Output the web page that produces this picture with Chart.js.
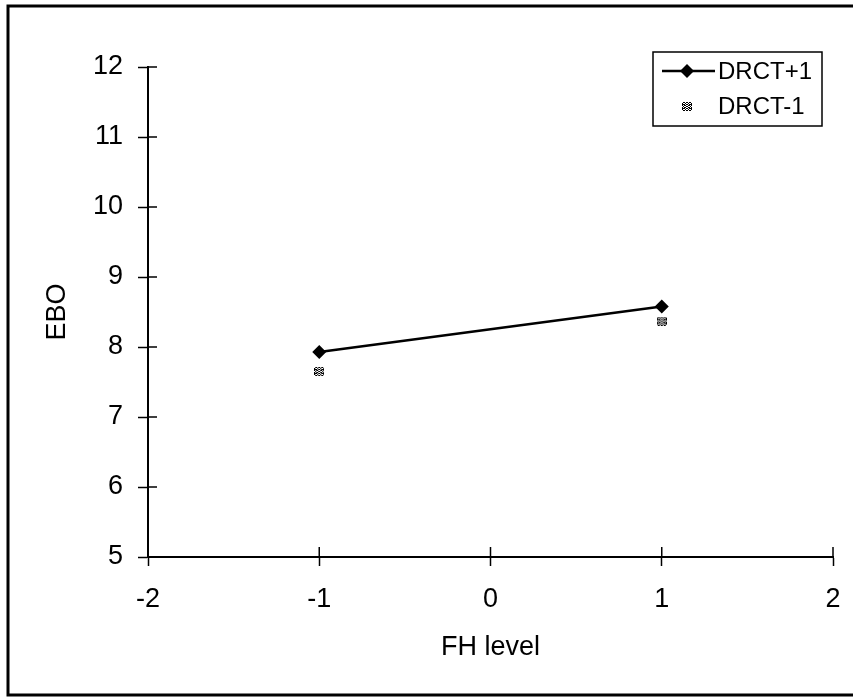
<!DOCTYPE html>
<html>
<head>
<meta charset="utf-8">
<title>EBO vs FH level</title>
<script src="https://cdn.jsdelivr.net/npm/chart.js@4.4.1/dist/chart.umd.min.js"></script>
<style>
  html, body { margin: 0; padding: 0; background: #fff; }
  #wrap { width: 853px; height: 698px; }
</style>
</head>
<body>
<div id="wrap"><canvas id="ebo"></canvas></div>
<script>
// valores
const fhLevels = [-1, 1];
const drctPlus = [7.93, 8.58];
const drctMinus = [7.65, 8.37];
const seriesNames = ['DRCT+1', 'DRCT-1'];
const xTicks = [-2, -1, 0, 1, 2];
const yTicks = [5, 6, 7, 8, 9, 10, 11, 12];

const FONT = '"Liberation Sans", Arial, sans-serif';

// marcador punteado para DRCT-1 (tipo ※)
function hatchMarker() {
  const rows = [
    '.XX.XX.XX.',
    'X..X..X..X',
    'XXX.XX.XXX',
    'X.XX..XX.X',
    '.X..XX..X.',
    'X.XX..XX.X',
    'XXX.XX.XXX',
    'X..X..X..X',
    '.XX.XX.XX.'
  ];
  const c = document.createElement('canvas');
  c.width = 10; c.height = 9;
  const g = c.getContext('2d');
  g.fillStyle = '#000';
  rows.forEach((r, y) => {
    for (let x = 0; x < r.length; x++) {
      if (r[x] === 'X') g.fillRect(x, y, 1, 1);
    }
  });
  return c;
}
const markerMinus = hatchMarker();

// marco exterior
const framePlugin = {
  id: 'frame',
  beforeDraw(chart) {
    const ctx = chart.ctx;
    ctx.save();
    ctx.fillStyle = '#fff';
    ctx.fillRect(0, 0, chart.width, chart.height);
    ctx.strokeStyle = '#000';
    ctx.lineWidth = 3;
    ctx.beginPath();
    ctx.moveTo(853, 6);
    ctx.lineTo(8, 6);
    ctx.lineTo(8, 695);
    ctx.lineTo(853, 695);
    ctx.stroke();
    ctx.restore();
  }
};

// marcas de eje que cruzan hacia dentro
const innerTicks = {
  id: 'innerTicks',
  afterDraw(chart) {
    const ctx = chart.ctx;
    const xs = chart.scales.x, ys = chart.scales.y;
    ctx.save();
    ctx.strokeStyle = '#000';
    ctx.lineWidth = 1.5;
    ctx.beginPath();
    xs.ticks.forEach((t, i) => {
      const px = xs.getPixelForTick(i);
      ctx.moveTo(px, ys.bottom);
      ctx.lineTo(px, ys.bottom - 10);
    });
    ys.ticks.forEach((t, i) => {
      const py = ys.getPixelForTick(i);
      ctx.moveTo(xs.left, py);
      ctx.lineTo(xs.left + 9, py);
    });
    ctx.stroke();
    ctx.restore();
  }
};

// leyenda con recuadro
const boxLegend = {
  id: 'boxLegend',
  afterDraw(chart) {
    const ctx = chart.ctx;
    const x0 = 653, y0 = 52, w = 169, h = 74;
    ctx.save();
    ctx.strokeStyle = '#000';
    ctx.lineWidth = 1.5;
    ctx.strokeRect(x0, y0, w, h);
    ctx.font = '24px ' + FONT;
    ctx.fillStyle = '#000';
    ctx.textBaseline = 'middle';
    // DRCT+1
    const r1 = 71;
    ctx.lineWidth = 2.5;
    ctx.beginPath();
    ctx.moveTo(662, r1);
    ctx.lineTo(715, r1);
    ctx.stroke();
    ctx.beginPath();
    ctx.moveTo(687, r1 - 7);
    ctx.lineTo(694, r1);
    ctx.lineTo(687, r1 + 7);
    ctx.lineTo(680, r1);
    ctx.closePath();
    ctx.fill();
    ctx.fillText(chart.data.datasets[0].label, 718, r1 + 1);
    // DRCT-1
    const r2 = 106;
    ctx.drawImage(markerMinus, 682, r2 - 4);
    ctx.fillText(chart.data.datasets[1].label, 718, r2 + 1);
    ctx.restore();
  }
};

function initChart() {
  const canvas = document.getElementById('ebo');
  new Chart(canvas, {
    type: 'scatter',
    data: {
      datasets: [
        {
          label: seriesNames[0],
          data: fhLevels.map((x, i) => ({ x: x, y: drctPlus[i] })),
          showLine: true,
          borderColor: '#000',
          backgroundColor: '#000',
          borderWidth: 2.5,
          pointStyle: 'rectRot',
          pointRadius: 7,
          pointBorderWidth: 0
        },
        {
          label: seriesNames[1],
          data: fhLevels.map((x, i) => ({ x: x, y: drctMinus[i] })),
          showLine: false,
          pointStyle: markerMinus,
          pointRadius: 5
        }
      ]
    },
    options: {
      responsive: true,
      maintainAspectRatio: false,
      animation: false,
      layout: { padding: { left: 0, top: 67, right: 20, bottom: 0 } },
      plugins: {
        legend: { display: false },
        tooltip: { enabled: false }
      },
      scales: {
        x: {
          type: 'linear',
          min: xTicks[0],
          max: xTicks[xTicks.length - 1],
          afterBuildTicks: s => { s.ticks = xTicks.map(v => ({ value: v })); },
          afterFit: s => { s.height = 141; s.paddingLeft = 0; s.paddingRight = 0; },
          grid: { drawOnChartArea: false, drawTicks: true, tickLength: 9, tickWidth: 1.5, tickColor: '#000' },
          border: { color: '#000', width: 2 },
          ticks: { color: '#000', font: { family: FONT, size: 27 }, padding: 17, maxRotation: 0 },
          title: { display: true, text: 'FH level', color: '#000', font: { family: FONT, size: 27 }, padding: { top: 0, bottom: 34 } }
        },
        y: {
          min: yTicks[0],
          max: yTicks[yTicks.length - 1],
          afterBuildTicks: s => { s.ticks = yTicks.map(v => ({ value: v })); },
          afterFit: s => { s.width = 148; s.paddingTop = 0; s.paddingBottom = 0; },
          grid: { drawOnChartArea: false, drawTicks: true, tickLength: 10, tickWidth: 1.5, tickColor: '#000' },
          border: { color: '#000', width: 2 },
          ticks: { color: '#000', font: { family: FONT, size: 27 }, padding: 15 },
          title: { display: true, text: 'EBO', color: '#000', font: { family: FONT, size: 27 }, padding: { top: 41, bottom: 0 } }
        }
      }
    },
    plugins: [framePlugin, innerTicks, boxLegend]
  });
}

window.addEventListener('DOMContentLoaded', initChart);
</script>
</body>
</html>
